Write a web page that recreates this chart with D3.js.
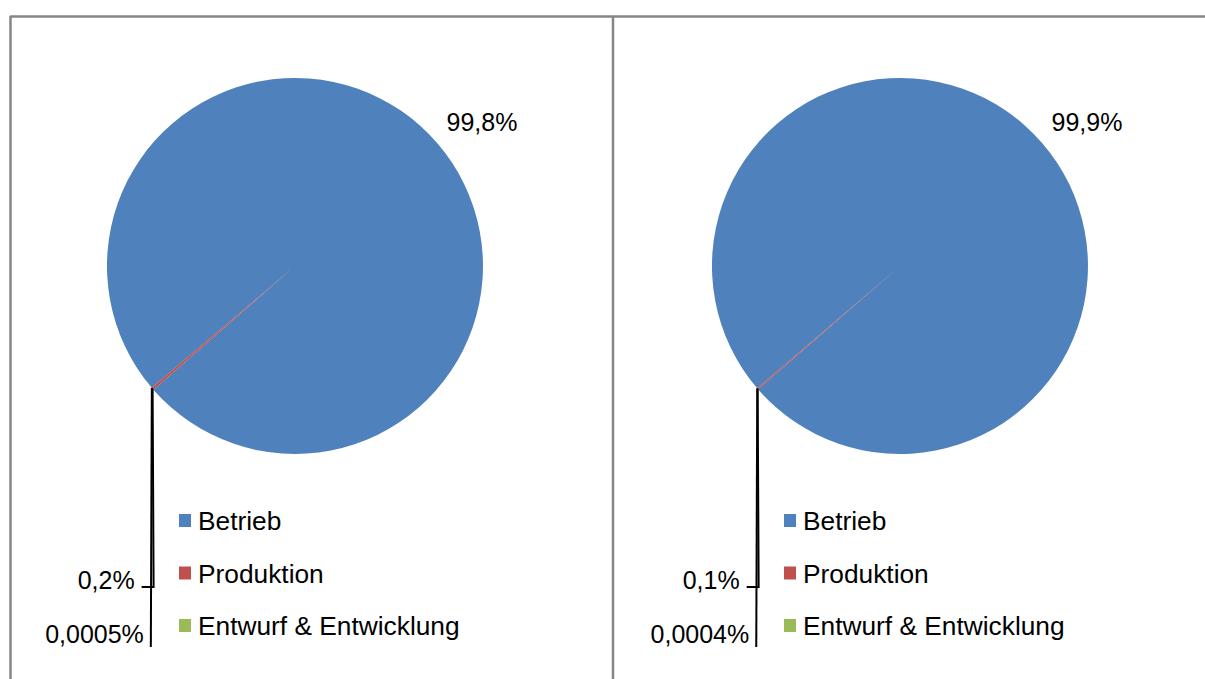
<!DOCTYPE html>
<html>
<head>
<meta charset="utf-8">
<script src="https://cdn.jsdelivr.net/npm/d3@7"></script>
<style>
html,body{margin:0;padding:0;background:#fff;}
svg{display:block;}
text{font-family:"Liberation Sans",Arial,sans-serif;fill:#000;}
</style>
</head>
<body>
<svg id="chart" width="1205" height="679"></svg>
<script>
const categories = ["Betrieb", "Produktion", "Entwurf & Entwicklung"];
const colors = ["#4F81BD", "#C0504D", "#9BBB59"];
const valuesLeft = [99.8, 0.2, 0.0005];
const valuesRight = [99.9, 0.1, 0.0004];
const labelsLeft = ["99,8%", "0,2%", "0,0005%"];
const labelsRight = ["99,9%", "0,1%", "0,0004%"];

const svg = d3.select("#chart");
const W = 1205, H = 679;

// panel frames
const frame = svg.append("g").attr("fill", "none").attr("stroke", "#868686").attr("stroke-width", 2.5);
frame.append("line").attr("x1", 10).attr("x2", W).attr("y1", 16.5).attr("y2", 16.5);
frame.append("line").attr("x1", 10.5).attr("x2", 10.5).attr("y1", 16).attr("y2", H);
frame.append("line").attr("x1", 613).attr("x2", 613).attr("y1", 16).attr("y2", H);

const panels = [
  {offset: 0, values: valuesLeft, labels: labelsLeft, start: 229.6},
  {offset: 605, values: valuesRight, labels: labelsRight, start: 229.4}
];

const R = 188;
const color = d3.scaleOrdinal().domain(categories).range(colors);

panels.forEach(p => {
  const g = svg.append("g").attr("transform", `translate(${p.offset},0)`);
  const cx = 295, cy = 266;
  const a0 = p.start * Math.PI / 180;
  const pie = d3.pie().sort(null).value(d => d.v).startAngle(a0).endAngle(a0 + 2 * Math.PI);
  const data = pie(categories.map((c, i) => ({c, v: p.values[i], label: p.labels[i]})));
  const arc = d3.arc().innerRadius(0).outerRadius(R);
  const edge = d3.arc().innerRadius(R).outerRadius(R);
  const outer = d3.arc().innerRadius(R + 20).outerRadius(R + 20);

  const pg = g.append("g").attr("transform", `translate(${cx},${cy})`);
  pg.selectAll("path").data(data).join("path")
    .attr("d", arc)
    .attr("fill", d => color(d.data.c));

  // big slice label
  const c0 = outer.centroid(data[0]);
  pg.append("text").attr("x", c0[0]).attr("y", c0[1] + 1).attr("dx", -6)
    .attr("font-size", 25).attr("text-anchor", "start").text(data[0].data.label);

  // small slices with leader lines
  const e1 = edge.centroid(data[1]);
  const e2 = edge.centroid(data[2]);
  const y1 = 587 - cy, y2 = 647 - cy;
  pg.append("path")
    .attr("d", `M${e1[0]},${e1[1]}L${e1[0] + 1},${y1}L${e1[0] - 11},${y1}`)
    .attr("fill", "none").attr("stroke", "#000").attr("stroke-width", 2);
  pg.append("text").attr("x", e1[0] - 18).attr("y", y1 + 2)
    .attr("font-size", 25).attr("text-anchor", "end").text(data[1].data.label);
  pg.append("path")
    .attr("d", `M${e2[0]},${e2[1]}L${e2[0] - 1},${y2}`)
    .attr("fill", "none").attr("stroke", "#000").attr("stroke-width", 2);
  pg.append("text").attr("x", e2[0] - 8).attr("y", y2 - 4)
    .attr("font-size", 25).attr("text-anchor", "end").text(data[2].data.label);

  // legend
  const ly = d3.scalePoint().domain(categories).range([530, 635]);
  const lg = g.append("g");
  const items = lg.selectAll("g").data(categories).join("g");
  items.append("rect").attr("x", 179).attr("y", d => ly(d) - 16).attr("width", 12).attr("height", 13)
    .attr("fill", d => color(d));
  items.append("text").attr("x", 198).attr("y", d => ly(d)).attr("font-size", 26.3).text(d => d);
});
</script>
</body>
</html>
